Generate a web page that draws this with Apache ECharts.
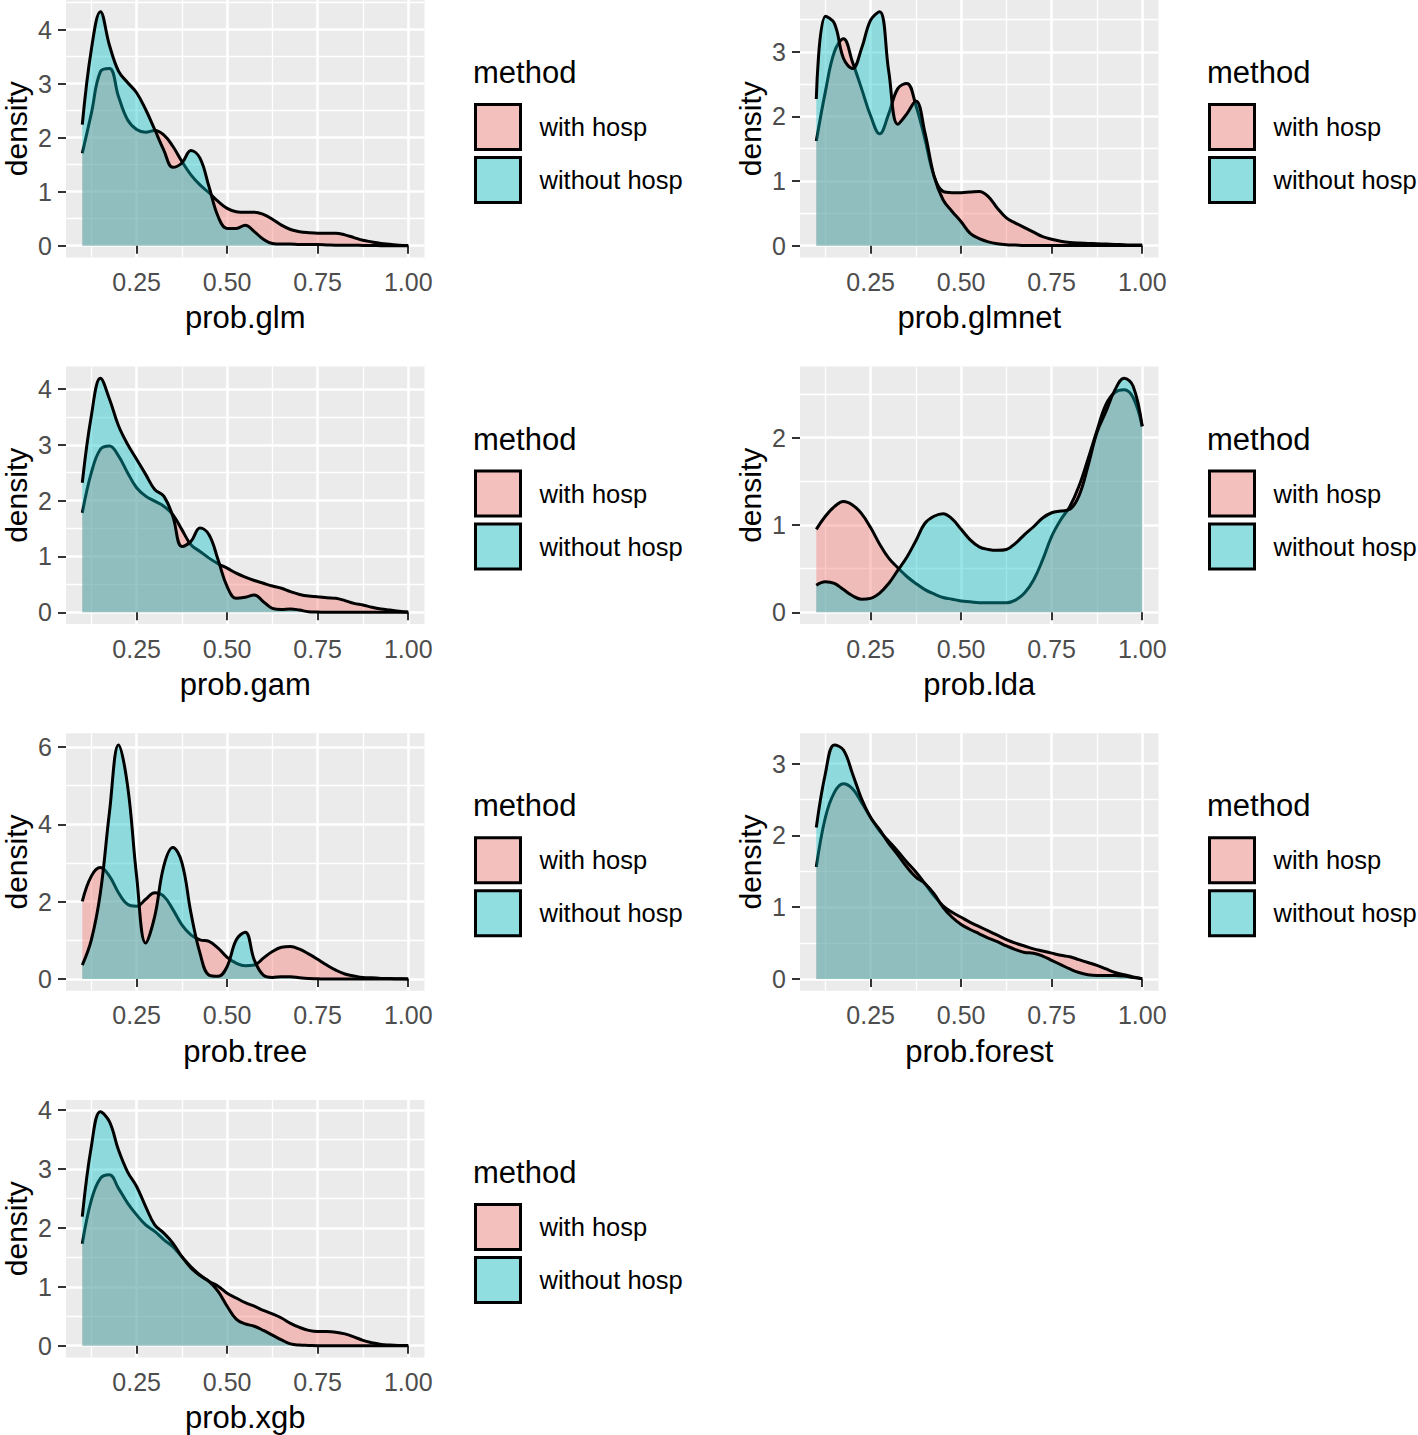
<!DOCTYPE html>
<html><head><meta charset="utf-8">
<script src="https://cdn.jsdelivr.net/npm/echarts@6/dist/echarts.min.js"></script>
<style>html,body{margin:0;padding:0;background:#fff}#c{width:1418px;height:1435px}</style>
</head><body><div id="c"></div>
<script>
// ---------- data ----------
const xs = [0.100,0.125,0.150,0.175,0.200,0.225,0.250,0.275,0.300,0.325,0.350,0.375,0.400,0.425,0.450,0.475,0.500,0.525,0.550,0.575,0.600,0.625,0.650,0.675,0.700,0.725,0.750,0.775,0.800,0.825,0.850,0.875,0.900,0.925,0.950,0.975,1.000];
const seriesNames = ['with hosp', 'without hosp'];
const legendTitle = 'method';
const xTicks = [0.25, 0.50, 0.75, 1.00];

const glmWith    = [1.71,2.45,3.22,3.28,2.76,2.33,2.15,2.10,2.13,2.05,1.84,1.56,1.31,1.125,0.98,0.82,0.69,0.63,0.62,0.62,0.58,0.49,0.38,0.30,0.26,0.24,0.23,0.23,0.23,0.20,0.15,0.10,0.07,0.04,0.025,0.01,0.005];
const glmWithout = [2.24,3.63,4.33,3.71,3.23,3.02,2.83,2.52,2.15,1.77,1.45,1.53,1.76,1.62,1.09,0.54,0.32,0.32,0.38,0.26,0.12,0.04,0.03,0.03,0.02,0.02,0.02,0.015,0.01,0.01,0.01,0.005,0.005,0,0,0,0];
const glmYTicks = [0,1,2,3,4];

const glmnetWith    = [1.62,2.38,3.00,3.20,2.84,2.43,2.01,1.73,2.04,2.43,2.51,2.17,1.65,1.08,0.84,0.82,0.82,0.83,0.84,0.76,0.58,0.43,0.35,0.28,0.21,0.14,0.10,0.07,0.05,0.04,0.035,0.03,0.025,0.02,0.015,0.01,0.01];
const glmnetWithout = [2.27,3.55,3.44,2.90,2.74,3.05,3.49,3.62,2.70,1.88,2.04,2.24,1.75,1.08,0.71,0.53,0.37,0.19,0.11,0.06,0.03,0.015,0.01,0.005,0.005,0.005,0.005,0.005,0.005,0.005,0.005,0.005,0.005,0.005,0.005,0.005,0.005];
const glmnetYTicks = [0,1,2,3];

const gamWith    = [1.78,2.50,2.92,2.98,2.80,2.50,2.23,2.08,1.99,1.90,1.75,1.48,1.21,1.09,0.97,0.87,0.79,0.70,0.63,0.57,0.52,0.47,0.43,0.37,0.32,0.29,0.28,0.26,0.25,0.21,0.16,0.13,0.09,0.06,0.04,0.02,0.005];
const gamWithout = [2.32,3.52,4.19,3.82,3.34,3.01,2.74,2.47,2.20,2.08,1.72,1.18,1.27,1.51,1.39,0.94,0.46,0.25,0.27,0.31,0.19,0.07,0.05,0.06,0.04,0.01,0.005,0,0,0,0,0,0,0,0,0,0];
const gamYTicks = [0,1,2,3,4];

const ldaWith    = [0.95,1.10,1.21,1.27,1.23,1.13,0.97,0.78,0.62,0.51,0.41,0.33,0.26,0.21,0.17,0.15,0.13,0.12,0.11,0.11,0.11,0.11,0.14,0.22,0.37,0.60,0.87,1.06,1.21,1.44,1.75,2.08,2.38,2.52,2.55,2.46,2.13];
const ldaWithout = [0.31,0.35,0.33,0.26,0.19,0.15,0.16,0.22,0.33,0.48,0.63,0.82,1.02,1.10,1.13,1.07,0.95,0.83,0.75,0.72,0.71,0.72,0.79,0.89,0.98,1.08,1.14,1.16,1.18,1.33,1.67,2.06,2.30,2.55,2.68,2.59,2.13];
const ldaYTicks = [0,1,2];

const treeWith    = [2.01,2.66,2.88,2.66,2.23,1.93,1.88,2.06,2.23,2.14,1.80,1.40,1.14,1.01,0.97,0.80,0.56,0.41,0.34,0.36,0.54,0.71,0.82,0.84,0.77,0.65,0.51,0.36,0.23,0.13,0.08,0.04,0.03,0.015,0.01,0.005,0.003];
const treeWithout = [0.36,1.01,2.23,4.31,6.05,5.00,2.66,0.93,1.62,2.92,3.40,3.01,1.71,0.67,0.10,0.07,0.32,1.01,1.21,0.49,0.10,0.04,0.06,0.06,0.03,0.01,0.005,0,0,0,0,0,0,0,0,0,0];
const treeYTicks = [0,2,4,6];

const forestWith    = [1.56,2.25,2.60,2.72,2.65,2.46,2.25,2.06,1.92,1.78,1.63,1.49,1.33,1.16,1.02,0.93,0.86,0.79,0.73,0.67,0.61,0.55,0.50,0.46,0.42,0.39,0.36,0.33,0.31,0.27,0.23,0.19,0.14,0.09,0.06,0.03,0.005];
const forestWithout = [2.11,2.86,3.26,3.19,2.86,2.51,2.25,2.08,1.89,1.73,1.56,1.42,1.33,1.19,1.00,0.86,0.76,0.69,0.63,0.57,0.52,0.46,0.41,0.37,0.36,0.32,0.26,0.20,0.14,0.09,0.06,0.05,0.05,0.05,0.04,0.02,0.005];
const forestYTicks = [0,1,2,3];

const xgbWith    = [1.73,2.47,2.84,2.90,2.67,2.42,2.22,2.05,1.94,1.80,1.68,1.51,1.34,1.20,1.09,1.01,0.89,0.81,0.73,0.67,0.60,0.54,0.47,0.38,0.31,0.26,0.24,0.24,0.23,0.20,0.15,0.09,0.05,0.02,0.01,0.005,0.003];
const xgbWithout = [2.19,3.38,3.97,3.80,3.32,2.95,2.70,2.36,2.05,1.91,1.74,1.51,1.32,1.19,1.09,0.92,0.67,0.45,0.37,0.33,0.26,0.18,0.10,0.03,0.01,0.005,0,0,0,0,0,0,0,0,0,0,0];
const xgbYTicks = [0,1,2,3,4];

const panelTitles = ['prob.glm','prob.glmnet','prob.gam','prob.lda','prob.tree','prob.forest','prob.xgb'];
const panelWith    = [glmWith, glmnetWith, gamWith, ldaWith, treeWith, forestWith, xgbWith];
const panelWithout = [glmWithout, glmnetWithout, gamWithout, ldaWithout, treeWithout, forestWithout, xgbWithout];
const panelYTicks  = [glmYTicks, glmnetYTicks, gamYTicks, ldaYTicks, treeYTicks, forestYTicks, xgbYTicks];

// ---------- styling / layout ----------
const FONT = "'Liberation Sans', Arial, Helvetica, sans-serif";
const FILL = ['rgba(248,118,109,0.4)', 'rgba(0,191,196,0.4)'];
const KEY  = ['#F4C0BD', '#91DEE0'];
const COL_LEFT = [66, 800];
const ROW_TOP = [0, 366.6, 733.3, 1100];
const GW = 358.5, GH = 257.4;
const COL_SHIFT = 734;

function minorOf(ticks, lo, hi) {
  const step = ticks[1] - ticks[0];
  const out = [];
  for (let v = ticks[0] - step / 2; v <= hi + 1e-9; v += step) {
    if (v >= lo - 1e-9) out.push(+v.toFixed(6));
  }
  return out;
}

const xSpan = xs[xs.length - 1] - xs[0];
const xMin = xs[0] - 0.05 * xSpan, xMax = xs[xs.length - 1] + 0.05 * xSpan;
const xMinor = minorOf(xTicks, xMin, xMax);

const grid = [], xAxis = [], yAxis = [], series = [], legend = [], title = [];

panelTitles.forEach((pt, i) => {
  const col = i % 2, row = Math.floor(i / 2);
  const left = COL_LEFT[col], top = ROW_TOP[row];
  grid.push({left: left, top: top, width: GW, height: GH, show: true,
    backgroundColor: '#EBEBEB', borderWidth: 0, containLabel: false, outerBoundsMode: 'none'});
  const M = Math.max(...panelWith[i], ...panelWithout[i]);
  const yMin = -0.05 * M, yMax = 1.05 * M;
  const yT = panelYTicks[i];
  const yMinor = minorOf(yT, yMin, yMax);

  xAxis.push({gridIndex: i, type: 'value', min: xMin, max: xMax, position: 'bottom',
    name: pt, nameLocation: 'middle', nameGap: 45,
    nameTextStyle: {fontSize: 31, color: '#000', fontFamily: FONT},
    axisLine: {show: false},
    axisTick: {show: true, length: 8, customValues: xTicks, lineStyle: {color: '#333', width: 2}},
    axisLabel: {customValues: xTicks, formatter: v => v.toFixed(2), fontSize: 25, color: '#4D4D4D', fontFamily: FONT, margin: 12},
    splitLine: {show: true, lineStyle: {color: '#fff', width: 2.6}}, z: 1});
  xAxis.push({gridIndex: i, type: 'value', min: xMin, max: xMax, position: 'bottom',
    axisLine: {show: false}, axisTick: {show: false, customValues: xMinor}, axisLabel: {show: false, customValues: xMinor},
    splitLine: {show: true, lineStyle: {color: '#fff', width: 1.3}}, z: 1});

  yAxis.push({gridIndex: i, type: 'value', min: yMin, max: yMax, position: 'left',
    name: 'density', nameLocation: 'middle', nameGap: 35, nameRotate: 90,
    nameTextStyle: {fontSize: 30, color: '#000', fontFamily: FONT},
    axisLine: {show: false},
    axisTick: {show: true, length: 8, customValues: yT, lineStyle: {color: '#333', width: 2}},
    axisLabel: {customValues: yT, formatter: v => String(Math.round(v)), fontSize: 25, color: '#4D4D4D', fontFamily: FONT, margin: 14},
    splitLine: {show: true, lineStyle: {color: '#fff', width: 2.6}}, z: 1});
  yAxis.push({gridIndex: i, type: 'value', min: yMin, max: yMax, position: 'left',
    axisLine: {show: false}, axisTick: {show: false, customValues: yMinor}, axisLabel: {show: false, customValues: yMinor},
    splitLine: {show: true, lineStyle: {color: '#fff', width: 1.3}}, z: 1});

  [panelWith[i], panelWithout[i]].forEach((arr, s) => {
    series.push({type: 'line', name: seriesNames[s], xAxisIndex: 2 * i, yAxisIndex: 2 * i,
      data: xs.map((x, k) => [x, arr[k]]), smooth: 0.4, showSymbol: false, symbol: 'none', silent: true,
      lineStyle: {color: '#000', width: 3}, itemStyle: {color: KEY[s]},
      areaStyle: {color: FILL[s], opacity: 1}, z: 3 + s});
  });

  title.push({text: legendTitle, left: 473 + col * COL_SHIFT, top: 57 + top, padding: 0,
    textStyle: {fontSize: 31, fontWeight: 'normal', color: '#000', fontFamily: FONT}});
  legend.push({orient: 'vertical', left: 474 + col * COL_SHIFT, top: 103 + top, padding: 0,
    itemWidth: 45, itemHeight: 45, itemGap: 5, icon: 'rect', selectedMode: false,
    itemStyle: {borderColor: '#000', borderWidth: 3},
    textStyle: {fontSize: 25.5, color: '#000', fontFamily: FONT, padding: [0, 0, 0, 14]},
    data: seriesNames.map((n, s) => ({name: n, icon: 'rect',
      itemStyle: {color: KEY[s], borderColor: '#000', borderWidth: 3}}))});
});

const chart = echarts.init(document.getElementById('c'), null, {renderer: 'svg', width: 1418, height: 1435});
chart.setOption({backgroundColor: '#fff', animation: false, textStyle: {fontFamily: FONT},
  grid, xAxis, yAxis, series, legend, title});
</script>
</body></html>
